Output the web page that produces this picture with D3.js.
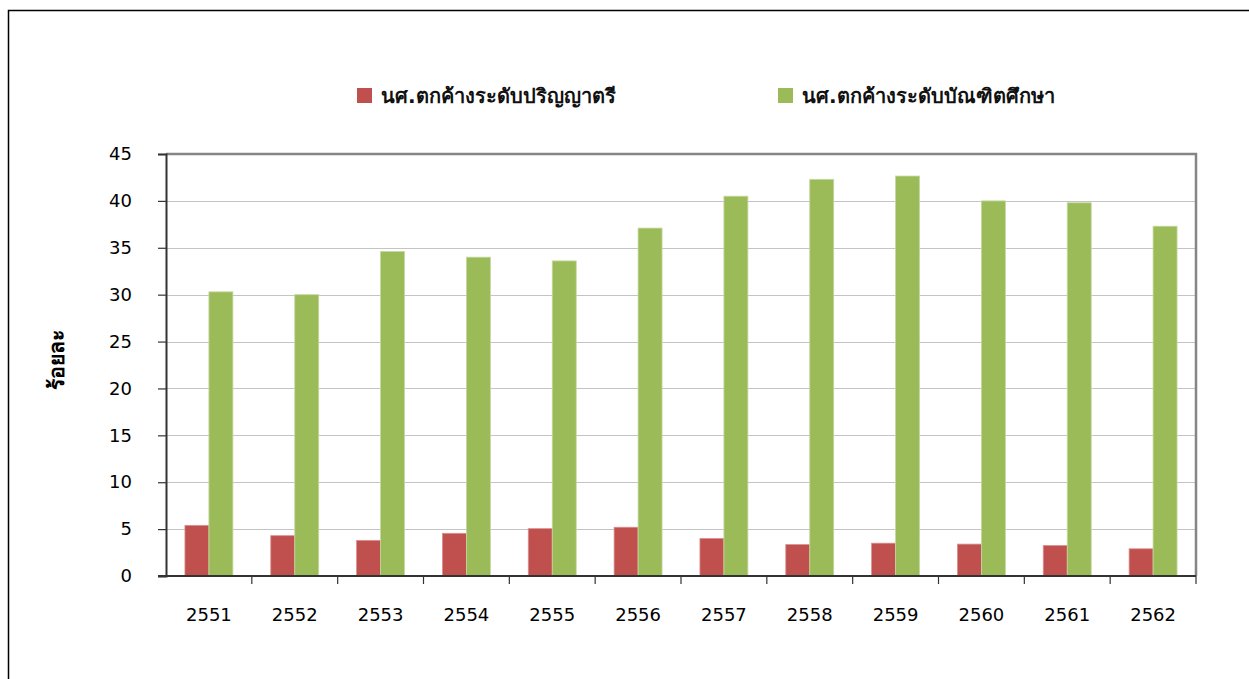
<!DOCTYPE html>
<html>
<head>
<meta charset="utf-8">
<script src="https://cdn.jsdelivr.net/npm/d3@7"></script>
<style>
  body { margin: 0; background: #fff; }
  svg { display: block; }
</style>
</head>
<body>
<script>
// data
var years = ['2551', '2552', '2553', '2554', '2555', '2556', '2557', '2558', '2559', '2560', '2561', '2562'];
var bachelor = [5.4, 4.3, 3.8, 4.55, 5.05, 5.2, 4.0, 3.35, 3.5, 3.4, 3.25, 2.9];
var graduate = [30.3, 30.0, 34.6, 34.0, 33.6, 37.1, 40.5, 42.3, 42.65, 40.0, 39.8, 37.3];
var series_names = ['นศ.ตกค้างระดับปริญญาตรี', 'นศ.ตกค้างระดับบัณฑิตศึกษา'];
var y_ticks = [0, 5, 10, 15, 20, 25, 30, 35, 40, 45];

var width = 1249, height = 679;
var plot_left = 166, plot_right = 1196, plot_top = 154, plot_bottom = 576;
var colors = ['#C0504D', '#9BBB59'];
var font = "Tahoma, 'DejaVu Sans', sans-serif";

var svg = d3.select('body').append('svg')
  .attr('width', width)
  .attr('height', height);

// outer frame
svg.append('path')
  .attr('d', 'M8.5,' + height + 'V10.5H' + width)
  .attr('fill', 'none')
  .attr('stroke', '#000')
  .attr('stroke-width', 1.5);

var x = d3.scaleBand().domain(years).range([plot_left, plot_right]);
var x_inner = d3.scaleBand().domain([0, 1])
  .range([0, x.bandwidth()])
  .paddingInner(0)
  .paddingOuter(0.79);
var y = d3.scaleLinear().domain([0, 45]).range([plot_bottom, plot_top]);

// gridlines
svg.append('g')
  .selectAll('line')
  .data(y_ticks.filter(function(d) { return d > 0 && d < 45; }))
  .enter()
  .append('line')
  .attr('x1', plot_left).attr('x2', plot_right)
  .attr('y1', function(d) { return Math.round(y(d)) + 0.5; })
  .attr('y2', function(d) { return Math.round(y(d)) + 0.5; })
  .attr('stroke', '#c4c4c4')
  .attr('stroke-width', 1);

// top and right border of plot area
svg.append('path')
  .attr('d', 'M' + plot_left + ',' + (plot_top) + 'H' + plot_right + 'V' + plot_bottom)
  .attr('fill', 'none')
  .attr('stroke', '#858585')
  .attr('stroke-width', 2.5);

// bars
var rows = years.map(function(yr, i) {
  return { year: yr, values: [bachelor[i], graduate[i]] };
});

var groups = svg.append('g')
  .selectAll('g')
  .data(rows)
  .enter()
  .append('g')
  .attr('transform', function(d) { return 'translate(' + x(d.year) + ',0)'; });

groups.selectAll('rect')
  .data(function(d) { return d.values; })
  .enter()
  .append('rect')
  .attr('x', function(d, i) { return x_inner(i); })
  .attr('width', x_inner.bandwidth())
  .attr('y', function(d) { return y(d); })
  .attr('height', function(d) { return y(0) - y(d); })
  .attr('fill', function(d, i) { return colors[i]; })
  .attr('stroke', function(d, i) { return i === 0 ? '#d9908e' : '#c5d8a0'; })
  .attr('stroke-width', 0.8);

// y axis
var y_axis = svg.append('g')
  .attr('transform', 'translate(' + plot_left + ',0)')
  .call(d3.axisLeft(y).tickValues(y_ticks).tickSize(8).tickPadding(26));
y_axis.select('.domain').attr('stroke', '#333').attr('stroke-width', 2);
y_axis.selectAll('.tick line').attr('stroke', '#333').attr('stroke-width', 1.2);
y_axis.selectAll('.tick text')
  .attr('font-family', font)
  .attr('font-size', '18px')
  .attr('fill', '#000');

// x axis
var x_axis = svg.append('g')
  .attr('transform', 'translate(0,' + plot_bottom + ')')
  .call(d3.axisBottom(x).tickSize(0).tickPadding(32));
x_axis.select('.domain')
  .attr('d', 'M' + (plot_left - 8) + ',0H' + plot_right)
  .attr('stroke', '#333').attr('stroke-width', 2);
x_axis.selectAll('.tick text')
  .attr('font-family', font)
  .attr('font-size', '18px')
  .attr('fill', '#000');

// category separators
svg.append('g')
  .selectAll('line')
  .data(years.slice(1).concat(['end']))
  .enter()
  .append('line')
  .attr('x1', function(d) { return d === 'end' ? plot_right : x(d); })
  .attr('x2', function(d) { return d === 'end' ? plot_right : x(d); })
  .attr('y1', plot_bottom).attr('y2', plot_bottom + 8)
  .attr('stroke', '#333').attr('stroke-width', 1.2);

// y title
svg.append('text')
  .attr('transform', 'translate(64,360) rotate(-90)')
  .attr('text-anchor', 'middle')
  .attr('font-family', font)
  .attr('font-weight', 'bold')
  .attr('font-size', '21px')
  .text('ร้อยละ');

// legend
var legend_x = [357, 778];
var legend = svg.append('g')
  .selectAll('g')
  .data(series_names)
  .enter()
  .append('g')
  .attr('transform', function(d, i) { return 'translate(' + legend_x[i] + ',88)'; });

legend.append('rect')
  .attr('width', 15).attr('height', 15)
  .attr('fill', function(d, i) { return colors[i]; });

legend.append('text')
  .attr('x', 24).attr('y', 15)
  .attr('font-family', font)
  .attr('font-size', '20px')
  .attr('font-weight', 'bold')
  .attr('fill', '#111')
  .text(function(d) { return d; });
</script>
</body>
</html>
